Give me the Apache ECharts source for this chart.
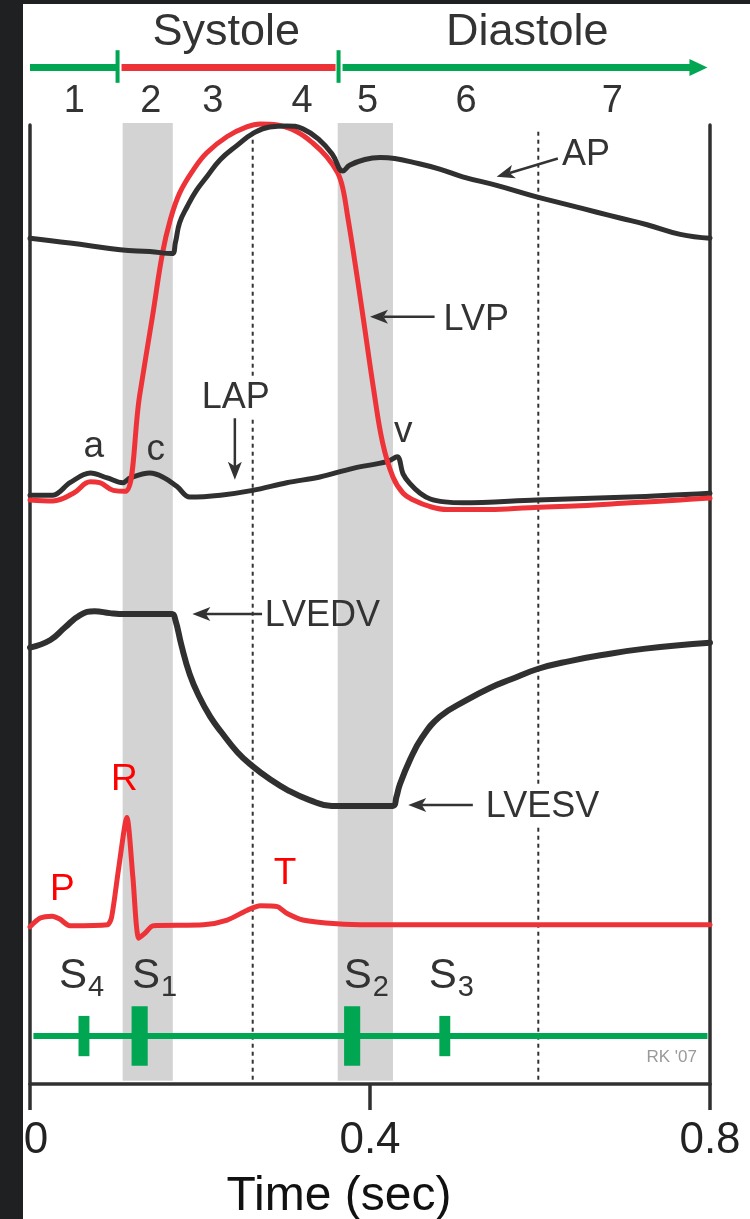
<!DOCTYPE html>
<html>
<head>
<meta charset="utf-8">
<script src="https://cdn.jsdelivr.net/npm/echarts@6/dist/echarts.min.js"></script>
<style>
html,body{margin:0;padding:0;background:#fff;}
#chart{width:750px;height:1219px;}
</style>
</head>
<body>
<div id="chart"></div>
<script>
// ---------- DATA (time in s, level in arbitrary chart units 0..100) ----------
const timeTicks = [0, 0.4, 0.8];

// Aortic pressure (AP)
const apTime  = [0, 0.047, 0.106, 0.141, 0.167, 0.171, 0.176, 0.185, 0.196, 0.208, 0.224, 0.244, 0.262, 0.282, 0.302, 0.321, 0.341, 0.356, 0.368, 0.376, 0.394, 0.412, 0.429, 0.451, 0.482, 0.509, 0.549, 0.596, 0.632, 0.667, 0.694, 0.726, 0.765, 0.8];
const apValue = [88.2, 87.7, 87.0, 86.8, 86.6, 87.7, 89.8, 91.5, 93.2, 94.6, 96.4, 97.9, 99.1, 99.8, 99.9, 99.6, 98.4, 96.9, 95.2, 95.8, 96.4, 96.6, 96.5, 96.1, 95.4, 94.6, 93.7, 92.5, 91.7, 90.9, 90.3, 89.6, 88.6, 88.2];

// Left ventricular pressure (LVP)
const lvpTime  = [0, 0.027, 0.051, 0.071, 0.082, 0.098, 0.112, 0.129, 0.144, 0.156, 0.165, 0.176, 0.192, 0.208, 0.232, 0.255, 0.271, 0.291, 0.314, 0.333, 0.349, 0.362, 0.368, 0.374, 0.380, 0.392, 0.404, 0.415, 0.427, 0.439, 0.451, 0.471, 0.491, 0.541, 0.588, 0.647, 0.706, 0.765, 0.8];
const lvpValue = [60.9, 60.8, 61.6, 62.8, 62.7, 61.9, 61.8, 71.8, 80.0, 86.7, 90.1, 92.9, 95.3, 97.1, 98.8, 99.8, 100.1, 100.0, 99.3, 98.1, 96.7, 95.0, 93.4, 90.3, 87.0, 79.9, 72.6, 66.8, 63.3, 61.6, 60.9, 60.2, 59.9, 59.9, 60.1, 60.3, 60.6, 60.9, 61.1];

// Left atrial pressure (LAP)
const lapTime  = [0, 0.027, 0.047, 0.071, 0.091, 0.109, 0.118, 0.141, 0.156, 0.173, 0.188, 0.224, 0.262, 0.302, 0.341, 0.380, 0.420, 0.432, 0.439, 0.447, 0.459, 0.471, 0.488, 0.509, 0.596, 0.706, 0.8];
const lapValue = [61.4, 61.4, 62.7, 63.7, 63.2, 62.7, 63.2, 63.7, 63.3, 62.3, 61.2, 61.4, 61.9, 62.7, 63.3, 64.2, 64.9, 65.4, 63.6, 62.6, 61.6, 61.0, 60.7, 60.6, 60.9, 61.2, 61.6];

// Left ventricular volume
const volTime  = [0, 0.024, 0.041, 0.059, 0.076, 0.094, 0.112, 0.167, 0.171, 0.178, 0.188, 0.199, 0.212, 0.225, 0.244, 0.261, 0.282, 0.304, 0.329, 0.355, 0.427, 0.431, 0.435, 0.447, 0.461, 0.482, 0.513, 0.541, 0.566, 0.598, 0.635, 0.671, 0.724, 0.8];
const volValue = [45.5, 46.3, 47.6, 48.9, 49.3, 49.1, 49.0, 49.0, 48.4, 45.8, 42.7, 40.4, 38.3, 36.7, 34.6, 33.2, 31.8, 30.6, 29.6, 29.0, 29.0, 29.9, 31.2, 33.8, 36.1, 38.3, 40.0, 41.3, 42.2, 43.3, 44.1, 44.7, 45.4, 46.0];

// ECG
const ecgTime  = [0, 0.012, 0.026, 0.035, 0.047, 0.091, 0.096, 0.104, 0.114, 0.121, 0.128, 0.135, 0.145, 0.204, 0.232, 0.255, 0.271, 0.291, 0.302, 0.321, 0.361, 0.4, 0.8];
const ecgValue = [16.4, 17.3, 17.5, 17.2, 16.5, 16.6, 17.4, 22.3, 27.8, 21.6, 15.2, 15.7, 16.5, 16.6, 17.1, 18.1, 18.6, 18.5, 17.8, 17.1, 16.7, 16.6, 16.6];

// Heart sounds (phonocardiogram)
const soundNumber = ['4', '1', '2', '3'];
const soundTime   = [0.0635, 0.129, 0.379, 0.488];
const soundAmp    = [2.1, 3.1, 3.1, 2.1];
const soundLevel  = 5.0;
const soundLineTime = [0.004, 0.797];

// Isovolumic contraction / relaxation bands
const bandStart = [0.109, 0.362];
const bandEnd   = [0.168, 0.427];
// dotted phase dividers
const dividerTime = [0.262, 0.598];

// Systole / diastole header
const phaseBoundary = [0, 0.103, 0.363, 0.797];
const phaseName     = ['Systole', 'Diastole'];
const phaseNameTime = [0.231, 0.585];
const stageLabel = ['1', '2', '3', '4', '5', '6', '7'];
const stageTime  = [0.052, 0.142, 0.215, 0.320, 0.397, 0.513, 0.685];

// annotation texts
const labelText  = ['AP', 'LVP', 'LAP', 'LVEDV', 'LVESV', 'a', 'c', 'v', 'P', 'R', 'T', "RK '07"];
const labelTime  = [0.654, 0.525, 0.242, 0.344, 0.603, 0.075, 0.148, 0.439, 0.038, 0.111, 0.300, 0.755];
const labelLevel = [96.9, 79.7, 71.5, 48.8, 28.9, 66.4, 66.1, 68.0, 20.2, 31.7, 21.9, 2.8];
const labelKind  = ['name', 'name', 'nameBox', 'name', 'nameBox', 'wave', 'wave', 'wave', 'ecg', 'ecg', 'ecg', 'credit'];
// annotation arrows: from (t,v) to (t,v)
const arrowFromTime  = [0.621, 0.476, 0.241, 0.273, 0.521];
const arrowFromLevel = [96.5, 80.0, 69.6, 49.0, 29.1];
const arrowToTime    = [0.549, 0.400, 0.241, 0.191, 0.445];
const arrowToLevel   = [94.6, 80.0, 63.0, 49.0, 29.1];
// heart sound label anchors
const soundLabelTime = [0.067, 0.153, 0.402, 0.502];
const soundLabelLevel = 11.2;
const soundSubLevel = 10.0;

// ---------- STYLE ----------
const FONT = '"Liberation Sans", Arial, Helvetica, sans-serif';
const BLACK = '#303030', RED = '#ee3338', GREEN = '#00a651', GRAY = '#d3d3d3', TXT = '#333333';

const chart = echarts.init(document.getElementById('chart'), null, {renderer: 'canvas'});

function pairs(T, V) { return T.map((t, i) => [t, V[i]]); }
function curve(name, T, V, color, width, z, smooth) {
  return {
    type: 'line', name, data: pairs(T, V), symbol: 'none', showSymbol: false,
    smooth: smooth, clip: false, silent: true, z,
    lineStyle: {color, width, cap: 'round', join: 'round'}
  };
}

const kindStyle = {
  name:    {fontSize: 36, fill: TXT},
  nameBox: {fontSize: 36, fill: TXT, backgroundColor: '#fff', padding: [2, 4, 2, 4]},
  wave:    {fontSize: 37, fill: TXT},
  ecg:     {fontSize: 37, fill: '#ff0000'},
  credit:  {fontSize: 17, fill: '#9a9a9a'}
};

const option = {
  animation: false,
  backgroundColor: '#ffffff',
  grid: {left: 30, right: 40, top: 125, bottom: 135, containLabel: false, outerBoundsMode: 'none'},
  xAxis: {
    type: 'value', min: timeTicks[0], max: timeTicks[timeTicks.length - 1], interval: timeTicks[1] - timeTicks[0],
    axisLine: {show: true, onZero: false, lineStyle: {color: BLACK, width: 3.5}},
    axisTick: {show: true, inside: false, length: 26, lineStyle: {color: BLACK, width: 3.5}},
    splitLine: {show: false},
    axisLabel: {
      show: true, margin: 35, color: '#222', fontSize: 44, fontFamily: FONT,
      showMinLabel: true, showMaxLabel: true,
      formatter: v => v === 0 ? '{z|0}' : String(v),
      rich: {z: {fontSize: 44, fontFamily: FONT, color: '#222', padding: [0, 0, 0, 12]}}
    },
    name: 'Time (sec)', nameLocation: 'middle', nameGap: 89,
    nameTextStyle: {fontSize: 48, fontFamily: FONT, color: '#111', padding: [0, 62, 0, 0]}
  },
  yAxis: [
    {type: 'value', min: 0, max: 100, position: 'left',
     axisLine: {show: true, lineStyle: {color: BLACK, width: 3.5}}, axisTick: {show: false},
     axisLabel: {show: false}, splitLine: {show: false}},
    {type: 'value', min: 0, max: 100, position: 'right',
     axisLine: {show: true, lineStyle: {color: BLACK, width: 3.5}}, axisTick: {show: false},
     axisLabel: {show: false}, splitLine: {show: false}}
  ],
  graphic: [
    {type: 'rect', shape: {x: 0, y: 0, width: 23, height: 1219}, style: {fill: '#1f2022'}, z: 100, silent: true},
    {type: 'rect', shape: {x: 0, y: 0, width: 750, height: 4}, style: {fill: '#1f2022'}, z: 100, silent: true}
  ],
  series: [
    // gray bands
    {
      type: 'custom', name: 'bands', clip: false, silent: true, z: 1,
      data: bandStart.map((s, i) => [s, bandEnd[i]]),
      renderItem: (p, api) => {
        const a = api.coord([api.value(0), 100.2]);
        const b = api.coord([api.value(1), 0.35]);
        return {type: 'rect', shape: {x: a[0], y: a[1], width: b[0] - a[0], height: b[1] - a[1]}, style: {fill: GRAY}};
      }
    },
    // dotted dividers
    {
      type: 'custom', name: 'dividers', clip: false, silent: true, z: 2,
      data: dividerTime.map(t => [t, 0]),
      renderItem: (p, api) => {
        const a = api.coord([api.value(0), 99.3]);
        const b = api.coord([api.value(0), 0]);
        return {type: 'line', shape: {x1: a[0], y1: a[1], x2: b[0], y2: b[1]},
          style: {stroke: '#333', lineWidth: 2, lineDash: [4, 4]}};
      }
    },
    // header (phase bar)
    {
      type: 'custom', name: 'phases', clip: false, silent: true, z: 3,
      data: phaseBoundary.slice(0, -1).map((s, i) => [s, phaseBoundary[i + 1], i]),
      renderItem: (p, api) => {
        const i = api.value(2);
        const a = api.coord([api.value(0), 106.0]);
        const b = api.coord([api.value(1), 106.0]);
        const color = i === 1 ? RED : GREEN;
        const children = [];
        const last = i === phaseBoundary.length - 2;
        const x1 = i === 0 ? a[0] : a[0] + 4;
        const x2 = last ? b[0] - 16 : (i === 1 ? b[0] - 3 : b[0]);
        children.push({type: 'line', shape: {x1: x1, y1: a[1], x2: x2, y2: b[1]}, style: {stroke: color, lineWidth: 7}});
        if (last) {
          children.push({type: 'polygon', shape: {points: [[b[0], b[1]], [b[0] - 18, b[1] - 8.5], [b[0] - 18, b[1] + 8.5]]}, style: {fill: GREEN}});
        }
        if (i > 0) {
          const t1 = api.coord([api.value(0), 107.8]);
          const t2 = api.coord([api.value(0), 104.4]);
          children.push({type: 'line', shape: {x1: t1[0], y1: t1[1], x2: t2[0], y2: t2[1]}, style: {stroke: GREEN, lineWidth: 4}});
        }
        return {type: 'group', children};
      }
    },
    // header texts
    {
      type: 'custom', name: 'phaseNames', clip: false, silent: true, z: 3,
      data: phaseNameTime.map((t, i) => [t, 109.6, i]),
      renderItem: (p, api) => {
        const c = api.coord([api.value(0), api.value(1)]);
        return {type: 'text', x: c[0], y: c[1], style: {text: phaseName[api.value(2)], fontSize: 45, fontFamily: FONT, fill: TXT, align: 'center', verticalAlign: 'middle'}};
      }
    },
    {
      type: 'custom', name: 'stages', clip: false, silent: true, z: 3,
      data: stageTime.map((t, i) => [t, 102.5, i]),
      renderItem: (p, api) => {
        const c = api.coord([api.value(0), api.value(1)]);
        return {type: 'text', x: c[0], y: c[1], style: {text: stageLabel[api.value(2)], fontSize: 38, fontFamily: FONT, fill: TXT, align: 'center', verticalAlign: 'middle'}};
      }
    },
    // curves
    curve('LAP', lapTime, lapValue, BLACK, 5, 4, 0.35),
    curve('LVP', lvpTime, lvpValue, RED, 5, 5, 0.4),
    curve('AP', apTime, apValue, BLACK, 5, 6, 0.45),
    curve('LV volume', volTime, volValue, BLACK, 6, 4, 0.45),
    curve('ECG', ecgTime, ecgValue, RED, 5, 4, 0.25),
    // heart sound baseline
    {
      type: 'line', name: 'sound baseline', data: soundLineTime.map(t => [t, soundLevel]),
      symbol: 'none', clip: false, silent: true, z: 4, lineStyle: {color: GREEN, width: 6}
    },
    // heart sounds
    {
      type: 'custom', name: 'heart sounds', clip: false, silent: true, z: 5,
      data: soundTime.map((t, i) => [t, soundAmp[i]]),
      renderItem: (p, api) => {
        const amp = api.value(1);
        const a = api.coord([api.value(0), soundLevel + amp]);
        const b = api.coord([api.value(0), soundLevel - amp]);
        const w = amp * 5.2;
        return {type: 'rect', shape: {x: a[0] - w / 2, y: a[1], width: w, height: b[1] - a[1]}, style: {fill: GREEN}};
      }
    },
    // heart sound labels
    {
      type: 'custom', name: 'sound labels', clip: false, silent: true, z: 6,
      data: soundLabelTime.map((t, i) => [t, soundLabelLevel, i]),
      renderItem: (p, api) => {
        const i = api.value(2);
        const c = api.coord([api.value(0), soundLabelLevel]);
        const d = api.coord([api.value(0), soundSubLevel]);
        return {type: 'group', children: [
          {type: 'text', x: c[0], y: c[1], style: {text: 'S', fontSize: 42, fontFamily: FONT, fill: TXT, align: 'right', verticalAlign: 'middle'}},
          {type: 'text', x: d[0] + 1, y: d[1], style: {text: soundNumber[i], fontSize: 29, fontFamily: FONT, fill: TXT, align: 'left', verticalAlign: 'middle'}}
        ]};
      }
    },
    // arrows
    {
      type: 'custom', name: 'arrows', clip: false, silent: true, z: 6,
      data: arrowFromTime.map((t, i) => [t, arrowFromLevel[i], arrowToTime[i], arrowToLevel[i]]),
      renderItem: (p, api) => {
        const a = api.coord([api.value(0), api.value(1)]);
        const b = api.coord([api.value(2), api.value(3)]);
        const dx = b[0] - a[0], dy = b[1] - a[1];
        const len = Math.sqrt(dx * dx + dy * dy);
        const ux = dx / len, uy = dy / len, nx = -uy, ny = ux;
        const L = 18, W = 7;
        const bx = b[0] - ux * L, by = b[1] - uy * L;
        const mx = b[0] - ux * L * 0.75, my = b[1] - uy * L * 0.75;
        return {type: 'group', children: [
          {type: 'line', shape: {x1: a[0], y1: a[1], x2: mx, y2: my}, style: {stroke: TXT, lineWidth: 2.5}},
          {type: 'polygon', shape: {points: [[b[0], b[1]], [bx + nx * W, by + ny * W], [mx, my], [bx - nx * W, by - ny * W]]}, style: {fill: TXT}}
        ]};
      }
    },
    // texts
    {
      type: 'custom', name: 'labels', clip: false, silent: true, z: 7,
      data: labelTime.map((t, i) => [t, labelLevel[i], i]),
      renderItem: (p, api) => {
        const i = api.value(2);
        const c = api.coord([api.value(0), api.value(1)]);
        const s = kindStyle[labelKind[i]];
        const style = Object.assign({text: labelText[i], fontFamily: FONT, align: 'center', verticalAlign: 'middle'}, s);
        return {type: 'text', x: c[0], y: c[1], style};
      }
    }
  ]
};
chart.setOption(option);
</script>
</body>
</html>
